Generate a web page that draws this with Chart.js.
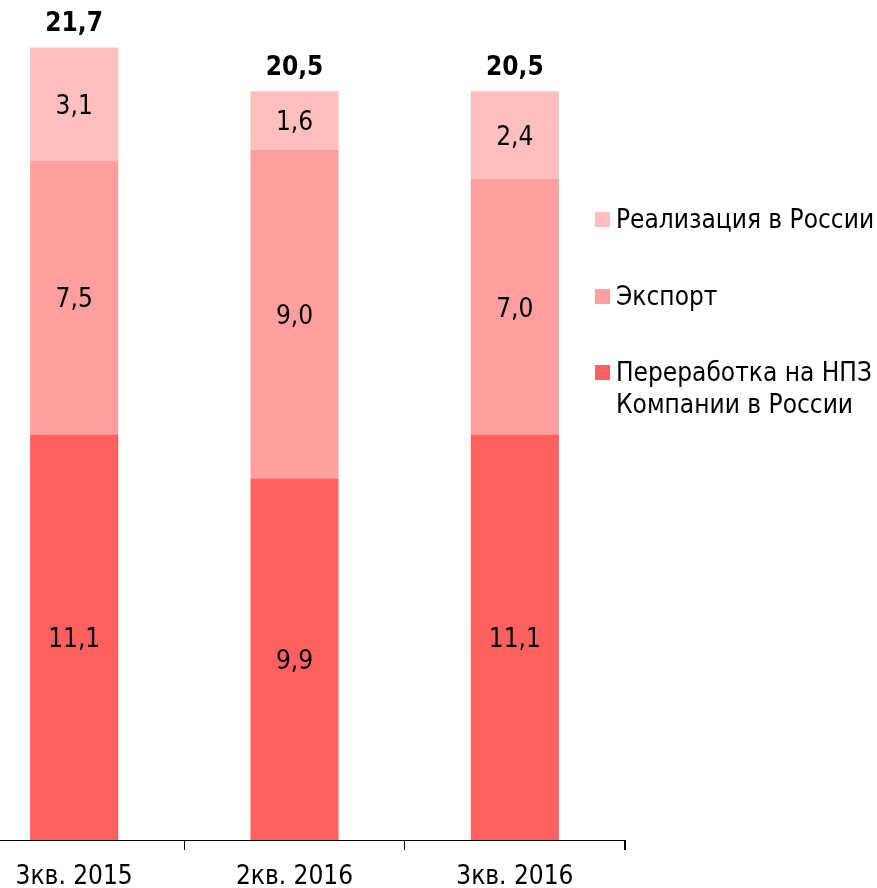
<!DOCTYPE html>
<html><head><meta charset="utf-8">
<script src="https://cdn.jsdelivr.net/npm/chart.js@4/dist/chart.umd.min.js"></script>
<style>
html,body{margin:0;padding:0;background:#fff;overflow:hidden;width:877px;height:888px;}
#wrap{position:absolute;left:-36px;top:0;width:662px;height:888px;}
#legend{position:absolute;left:595px;top:0;font-family:"DejaVu Sans Condensed","DejaVu Sans",sans-serif;font-stretch:condensed;font-size:26px;color:#000;}
.item{position:absolute;left:0;white-space:nowrap;line-height:32px;}
.sw{position:absolute;left:0;width:15px;height:15px;}
.tx{position:absolute;left:21px;top:0;}
</style></head>
<body>
<div id="wrap"><canvas id="c" width="662" height="888"></canvas></div>
<div id="legend"></div>
<script>
const categories = ["3кв. 2015", "2кв. 2016", "3кв. 2016"];
const refining = [11.1, 9.9, 11.1];
const exportVals = [7.5, 9.0, 7.0];
const domestic = [3.1, 1.6, 2.4];
const totals = [21.7, 20.5, 20.5];
const seriesNames = ["Переработка на НПЗ\nКомпании в России", "Экспорт", "Реализация в России"];
const colors = ["#FF6161", "#FF9F9F", "#FFBFBF"];

const fmt = v => v.toFixed(1).replace('.', ',');
const FONT = '"DejaVu Sans Condensed", "DejaVu Sans", sans-serif';

const labelPlugin = {
  id: 'labels',
  afterDatasetsDraw(chart) {
    const ctx = chart.ctx;
    ctx.save();
    ctx.textAlign = 'center';
    ctx.textBaseline = 'middle';
    ctx.fillStyle = '#000';
    ctx.font = '26px ' + FONT;
    chart.data.datasets.forEach((ds, i) => {
      const meta = chart.getDatasetMeta(i);
      meta.data.forEach((bar, j) => {
        ctx.fillText(fmt(ds.data[j]), bar.x, (bar.y + bar.base) / 2 + 3);
      });
    });
    ctx.font = 'bold 26px ' + FONT;
    const last = chart.getDatasetMeta(chart.data.datasets.length - 1);
    last.data.forEach((bar, j) => {
      ctx.fillText(fmt(totals[j]), bar.x, bar.y - 23);
    });
    ctx.restore();
  },
  afterDraw(chart) {
    // closing tick at the right end of the category axis
    const ctx = chart.ctx, ca = chart.chartArea;
    const x = Math.round(chart.scales.x.right) - 0.5;
    ctx.save();
    ctx.strokeStyle = '#000';
    ctx.lineWidth = 1;
    ctx.beginPath();
    ctx.moveTo(x, ca.bottom);
    ctx.lineTo(x, ca.bottom + 10);
    ctx.stroke();
    ctx.restore();
  }
};

new Chart(document.getElementById('c'), {
  type: 'bar',
  data: {
    labels: categories,
    datasets: [
      { label: seriesNames[0], data: refining, backgroundColor: colors[0] },
      { label: seriesNames[1], data: exportVals, backgroundColor: colors[1] },
      { label: seriesNames[2], data: domestic, backgroundColor: colors[2] }
    ]
  },
  options: {
    responsive: false,
    animation: false,
    events: [],
    layout: { padding: { left: 0, right: 1, top: 0, bottom: 0 } },
    datasets: { bar: { categoryPercentage: 1, barPercentage: 0.4, borderWidth: 0 } },
    plugins: { legend: { display: false }, tooltip: { enabled: false } },
    scales: {
      x: {
        stacked: true,
        grid: { display: true, drawOnChartArea: false, drawTicks: true, tickLength: 10, color: '#000', offset: true },
        border: { display: true, color: '#000', width: 1 },
        ticks: { color: '#000', font: { family: FONT, size: 26 }, padding: 12, maxRotation: 0 },
        afterFit(scale) { scale.height = 48; }
      },
      y: {
        stacked: true,
        display: false,
        min: 0,
        max: 23
      }
    }
  },
  plugins: [labelPlugin]
});

// HTML legend built from series arrays (top row = last series)
const legend = document.getElementById('legend');
const tops = [356, 280, 203];
[2, 1, 0].forEach(i => {
  const it = document.createElement('div');
  it.className = 'item';
  it.style.top = tops[i] + 'px';
  const sw = document.createElement('div');
  sw.className = 'sw';
  sw.style.background = colors[i];
  sw.style.top = '9px';
  const tx = document.createElement('div');
  tx.className = 'tx';
  tx.innerHTML = seriesNames[i].split('\n').join('<br>');
  it.appendChild(sw); it.appendChild(tx);
  legend.appendChild(it);
});
</script>
</body></html>
